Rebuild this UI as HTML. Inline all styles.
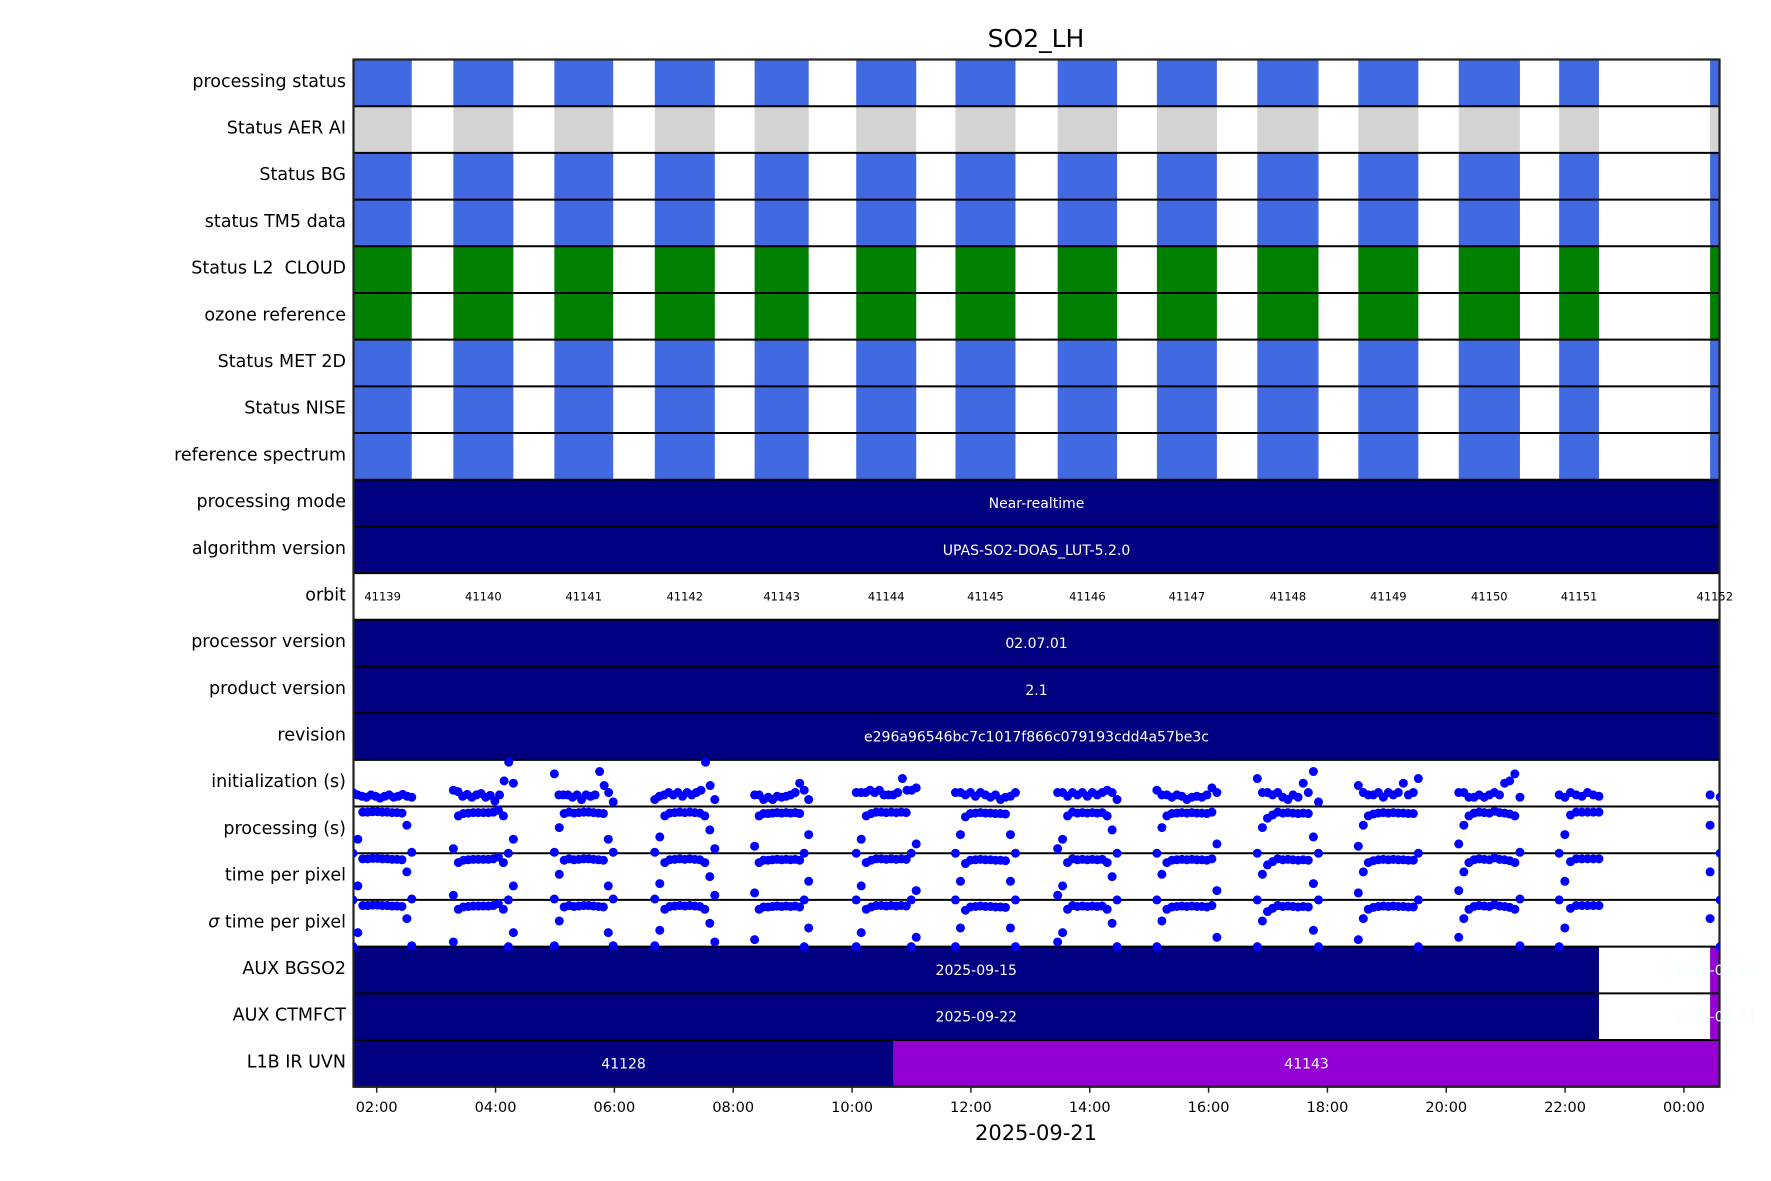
<!DOCTYPE html>
<html><head><meta charset="utf-8"><style>
html,body{margin:0;padding:0;background:#fff}
svg{display:block;font-family:"DejaVu Sans","Liberation Sans",sans-serif}
#labels text{white-space:pre}
</style></head><body>
<svg id="chart" width="1771" height="1181" viewBox="0 0 1771 1181" xmlns="http://www.w3.org/2000/svg">
<text x="1036" y="47" font-size="25" text-anchor="middle" fill="#000">SO2_LH</text>
<text x="1036" y="1140" font-size="21" text-anchor="middle" fill="#000">2025-09-21</text>
<defs><clipPath id="pc"><rect x="353.5" y="0" width="1366" height="1181"/></clipPath></defs>
<g id="bars" clip-path="url(#pc)"></g>
<g id="grid"></g>
<g id="labels"></g>
<g id="ticks"></g>
</svg>
<script>
const rowLabels = ["processing status","Status AER AI","Status BG","status TM5 data","Status L2  CLOUD","ozone reference","Status MET 2D","Status NISE","reference spectrum","processing mode","algorithm version","orbit","processor version","product version","revision","initialization (s)","processing (s)","time per pixel","\u03c3 time per pixel","AUX BGSO2","AUX CTMFCT","L1B IR UVN"];
const orbitStarts = [1.60,3.29,4.99,6.68,8.36,10.07,11.74,13.46,15.13,16.82,18.52,20.21,21.90,24.44];
const orbitEnds   = [2.59,4.30,5.98,7.69,9.27,11.08,12.75,14.46,16.14,17.85,19.53,21.24,22.57,24.61];
const orbitNumbers = ["41139","41140","41141","41142","41143","41144","41145","41146","41147","41148","41149","41150","41151","41152"];
const statusColors = ["#4169e1","#d3d3d3","#4169e1","#4169e1","#008000","#008000","#4169e1","#4169e1","#4169e1"];
const fullRowTexts = {9:"Near-realtime",10:"UPAS-SO2-DOAS_LUT-5.2.0",12:"02.07.01",13:"2.1",14:"e296a96546bc7c1017f866c079193cdd4a57be3c"};
const auxBgStarts = [1.60,24.44], auxBgEnds=[22.57,24.61], auxBgTexts=["2025-09-15","2025-09-16"];
const auxCtmStarts = [1.60,24.44], auxCtmEnds=[22.57,24.61], auxCtmTexts=["2025-09-22","2025-09-23"];
const l1bStarts = [1.60,10.70], l1bEnds=[10.70,24.61], l1bTexts=["41128","41143"];
const initValues = [
 [0.3,0.25,0.22,0.2,0.25,0.22,0.18,0.22,0.25,0.2,0.22,0.26,0.22,0.2],
 [0.35,0.32,0.22,0.26,0.2,0.25,0.28,0.2,0.24,0.12,0.25,0.55,0.95,0.5],
 [0.7,0.25,0.25,0.25,0.2,0.25,0.15,0.25,0.22,0.25,0.75,0.45,0.3,0.1],
 [0.15,0.22,0.25,0.3,0.25,0.3,0.22,0.3,0.25,0.3,0.35,0.95,0.45,0.15],
 [0.25,0.25,0.15,0.2,0.15,0.22,0.2,0.22,0.25,0.3,0.5,0.35,0.15],
 [0.3,0.3,0.3,0.35,0.3,0.35,0.25,0.25,0.25,0.3,0.6,0.35,0.35,0.4],
 [0.3,0.3,0.25,0.3,0.22,0.3,0.25,0.2,0.25,0.15,0.2,0.22,0.3],
 [0.3,0.3,0.22,0.3,0.25,0.3,0.22,0.3,0.25,0.3,0.35,0.3,0.15],
 [0.35,0.25,0.25,0.2,0.25,0.22,0.15,0.2,0.22,0.2,0.25,0.4,0.3],
 [0.6,0.3,0.3,0.25,0.3,0.2,0.15,0.25,0.2,0.5,0.3,0.75,0.1],
 [0.45,0.3,0.25,0.25,0.3,0.2,0.3,0.25,0.3,0.5,0.25,0.3,0.6],
 [0.3,0.3,0.2,0.2,0.25,0.2,0.25,0.3,0.25,0.5,0.55,0.7,0.2],
 [0.25,0.2,0.3,0.25,0.22,0.3,0.25,0.22],
 [0.25,0.2]
];
const processingValues = [
 [0.0,0.3,0.88,0.88,0.89,0.89,0.88,0.88,0.87,0.87,0.86,0.6,0.02],
 [0.1,0.8,0.85,0.86,0.87,0.87,0.87,0.87,0.88,0.92,0.8,0.0,0.3],
 [0.02,0.55,0.85,0.88,0.86,0.87,0.88,0.88,0.87,0.86,0.85,0.3,0.02],
 [0.02,0.35,0.8,0.86,0.87,0.88,0.87,0.88,0.87,0.86,0.8,0.5,0.1],
 [0.15,0.8,0.85,0.85,0.86,0.87,0.86,0.87,0.86,0.87,0.85,0.0,0.4],
 [0.0,0.3,0.8,0.85,0.88,0.88,0.87,0.88,0.87,0.88,0.87,0.0,0.2],
 [0.0,0.4,0.78,0.85,0.86,0.87,0.86,0.86,0.85,0.85,0.84,0.4,0.0],
 [0.1,0.3,0.8,0.88,0.86,0.87,0.86,0.87,0.86,0.87,0.8,0.5,0.0],
 [0.0,0.55,0.8,0.85,0.86,0.87,0.86,0.87,0.86,0.86,0.85,0.88,0.2],
 [0.0,0.55,0.75,0.82,0.88,0.86,0.87,0.86,0.85,0.86,0.85,0.35,0.0],
 [0.15,0.6,0.8,0.84,0.86,0.87,0.86,0.87,0.86,0.86,0.85,0.85,0.0],
 [0.2,0.6,0.8,0.86,0.88,0.87,0.86,0.9,0.87,0.86,0.84,0.8,0.02],
 [0.0,0.4,0.82,0.88,0.88,0.88,0.88,0.88],
 [0.6,0.0]
];
const timePerPixelValues = processingValues.map(a => a.slice());
const sigmaTimeValues = processingValues.map(a => a.slice());
const tickHours = [2,4,6,8,10,12,14,16,18,20,22,24];
const tickLabels = ["02:00","04:00","06:00","08:00","10:00","12:00","14:00","16:00","18:00","20:00","22:00","00:00"];

const NS="http://www.w3.org/2000/svg";
const L=353.5,R=1719.5,T=59.5,B=1086.7,NR=22,RH=(B-T)/NR;
const xs=t=>376.7+(t-2)*59.42;
const rowTop=i=>T+i*RH;
function mk(tag,attrs,parent){const e=document.createElementNS(NS,tag);for(const k in attrs)e.setAttribute(k,attrs[k]);parent.appendChild(e);return e;}
const bars=document.getElementById('bars'),grid=document.getElementById('grid'),labs=document.getElementById('labels'),ticks=document.getElementById('ticks'),svg=document.getElementById('chart');
const cx=(a,b)=>(Math.max(xs(a),L)+Math.min(xs(b),R))/2;

for(let r=0;r<9;r++){
  for(let i=0;i<orbitStarts.length;i++){
    const e=mk('rect',{x:xs(orbitStarts[i]),y:rowTop(r),width:xs(orbitEnds[i])-xs(orbitStarts[i]),height:RH,fill:statusColors[r]},bars);
    
    
  }
}
for(const k in fullRowTexts){
  const r=+k;
  const e=mk('rect',{x:L,y:rowTop(r),width:R-L,height:RH,fill:'#000080'},bars);
  
  
  const t=mk('text',{x:(L+R)/2,y:rowTop(r)+RH/2+5,'font-size':14,'text-anchor':'middle',fill:'#fff'},svg);
  t.textContent=fullRowTexts[k];
  
  
}
for(let i=0;i<orbitNumbers.length;i++){
  const t=mk('text',{x:cx(orbitStarts[i],orbitEnds[i]),y:rowTop(11)+RH/2+4,'font-size':11.5,'text-anchor':'middle',fill:'#000'},svg);
  t.textContent=orbitNumbers[i];
  
  
}
function segRow(r,starts,ends,texts,colors,textColors,name){
  for(let i=0;i<starts.length;i++){
    const e=mk('rect',{x:xs(starts[i]),y:rowTop(r),width:xs(ends[i])-xs(starts[i]),height:RH,fill:colors[i]},bars);
    
    
    const t=mk('text',{x:(Math.max(xs(starts[i]),L)+Math.min(xs(ends[i]),R))/2,y:rowTop(r)+RH/2+5,'font-size':14,'text-anchor':'middle',fill:textColors[i]},svg);
    t.textContent=texts[i];
    
    
  }
}
segRow(19,auxBgStarts,auxBgEnds,auxBgTexts,['#000080','#9400d3'],['#fff','#f0ffff'],'aux-bgso2');
segRow(20,auxCtmStarts,auxCtmEnds,auxCtmTexts,['#000080','#9400d3'],['#fff','#f0ffff'],'aux-ctmfct');
segRow(21,l1bStarts,l1bEnds,l1bTexts,['#000080','#9400d3'],['#fff','#fff'],'l1b-ir-uvn');
function scat(r,vals,name){
  const g=mk('g',{'clip-path':'url(#pc)'},svg);
  for(let i=0;i<vals.length;i++){
    const v=vals[i],n=v.length,s=orbitStarts[i],e=orbitEnds[i];
    for(let j=0;j<n;j++){
      const t=n>1? s+(e-s)*j/(n-1):s;
      const c=mk('circle',{cx:xs(t),cy:rowTop(r)+RH-v[j]*RH,r:4.5,fill:'#0000ff'},g);
      
      
    }
  }
}
scat(15,initValues,'initialization');
scat(16,processingValues,'processing');
scat(17,timePerPixelValues,'time-per-pixel');
scat(18,sigmaTimeValues,'sigma-time-per-pixel');
for(let r=0;r<=NR;r++){
  mk('line',{x1:L,x2:R,y1:rowTop(r),y2:rowTop(r),stroke:'#000','stroke-width':2},grid);
}
const fr=mk('rect',{x:L,y:T,width:R-L,height:B-T,fill:'none',stroke:'#222','stroke-width':2.2},grid);


for(let r=0;r<NR;r++){
  const t=mk('text',{x:346,y:rowTop(r)+RH/2+4,'font-size':17.5,'text-anchor':'end',fill:'#000'},labs);
  if(r===18){t.innerHTML='<tspan font-style="italic">\u03c3</tspan> time per pixel';}else t.textContent=rowLabels[r];
  
  
}
for(let i=0;i<tickHours.length;i++){
  const x=xs(tickHours[i]);
  mk('line',{x1:x,x2:x,y1:B,y2:B+6,stroke:'#222','stroke-width':1.5},ticks);
  const t=mk('text',{x:x,y:1112,'font-size':14.5,'text-anchor':'middle',fill:'#000'},ticks);
  t.textContent=tickLabels[i];
  
  
}
</script>
</body></html>
